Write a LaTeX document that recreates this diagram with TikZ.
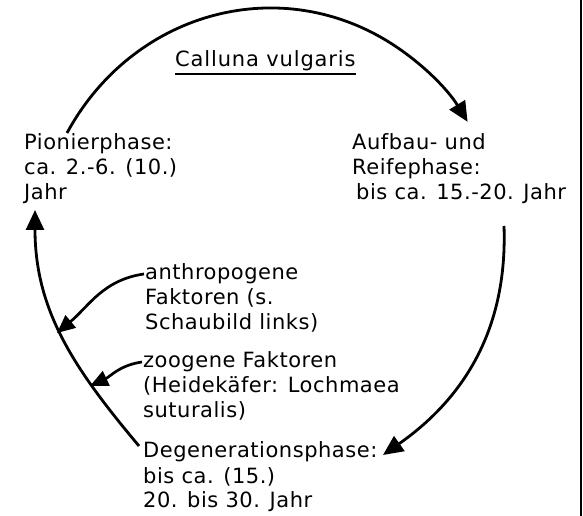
\documentclass[tikz,border=0pt]{standalone}
\usepackage{fontspec}
\setmainfont[LetterSpace=2.5]{DejaVu Sans}
\usetikzlibrary{arrows.meta}
\begin{document}
\begin{tikzpicture}[x=1pt,y=1pt,
  lbl/.style={anchor=base west, align=left, inner sep=0pt, font=\fontsize{21}{25}\selectfont},
  conn/.style={line width=2.8pt, -{Triangle[length=20pt,width=18pt]}},
  sconn/.style={line width=2.7pt, -{Triangle[length=18pt,width=16pt]}},
]
\useasboundingbox (0,0) rectangle (583,516);
% texts (anchor = baseline of the last line)
\node[lbl] (cal) at (175,449) {\addfontfeature{LetterSpace=4}Calluna vulgaris};
\draw[line width=2pt] ([yshift=-7pt]cal.base west) -- ([yshift=-7pt]cal.base east);
\node[lbl] (pion) at (24,316) {Pionierphase:\\ca. 2.-6. (10.)\\Jahr};
\node[lbl] (aufb) at (352,316) {Aufbau- und\\Reifephase:\\\hspace{4pt}bis ca. 15.-20. Jahr};
\node[lbl] (degen) at (143,8) {Degenerationsphase:\\bis ca. (15.)\\20. bis 30. Jahr};
\node[lbl] (anthro) at (145,186) {anthropogene\\Faktoren (s.\\Schaubild links)};
\node[lbl] (zoo) at (143,98) {zoogene Faktoren\\(Heidekäfer: Lochmaea\\suturalis)};
% cycle arcs
\coordinate (t0) at (67,383);
\coordinate (r0) at (504,290);
\coordinate (r1) at (383,61);
\coordinate (l0) at (139,70);
\coordinate (l1) at (35,306);
\draw[conn] (t0) arc[start angle=150, end angle=33, x radius=235, y radius=250];
\draw[conn] (r0) to[out=-88, in=35] (r1);
\draw[conn] (l0) to[out=130, in=-90] (l1);
% factor arrows
\coordinate (a1) at (57,183);
\coordinate (z1) at (90,130);
\draw[sconn] ([xshift=-1pt,yshift=56pt]anthro.base west) to[out=188, in=40] (a1);
\draw[sconn] ([xshift=-1pt,yshift=56pt]zoo.base west) to[out=188, in=25] (z1);
% frame edge
\draw[line width=1.8pt] (581,516) -- (581,0);
\end{tikzpicture}
\end{document}
